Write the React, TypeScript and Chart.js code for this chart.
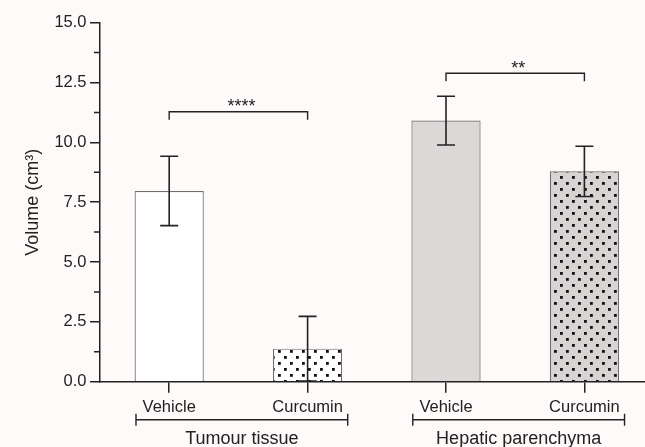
import React, { useEffect, useRef } from 'react';
import { Chart, registerables } from 'chart.js';

Chart.register(...registerables);

// Bars: treatment within each tissue group
const treatments = ['Vehicle', 'Curcumin', 'Vehicle', 'Curcumin'];
const meanVolume = [7.97, 1.38, 10.91, 8.79];
const errVolume = [1.45, 1.35, 1.02, 1.05];

// Tissue groups drawn as brackets under the category labels
const groupLabels = ['Tumour tissue', 'Hepatic parenchyma'];
const groupMembers = [[0, 1], [2, 3]];

// Significance brackets: which bars, height (cm³) and stars
const sigPairs = [[0, 1], [2, 3]];
const sigLevels = [11.28, 12.89];
const sigLabels = ['****', '**'];

// Y axis
const yMajorTicks = [0, 2.5, 5, 7.5, 10, 12.5, 15];
const yMinorTicks = [1.25, 3.75, 6.25, 8.75, 11.25, 13.75];

const INK = '#222222';
const BG = '#fdfaf9';
const FONT = "'Liberation Sans', Arial, sans-serif";

function dotPattern(bg: string): CanvasPattern | string {
  const c = document.createElement('canvas');
  c.width = 12;
  c.height = 12;
  const g = c.getContext('2d');
  if (!g) return bg;
  g.fillStyle = bg;
  g.fillRect(0, 0, 12, 12);
  g.fillStyle = '#111111';
  g.fillRect(2, 2, 2.8, 2.8);
  g.fillRect(8, 8, 2.8, 2.8);
  const p = g.createPattern(c, 'repeat');
  return p || bg;
}

const decorations = {
  id: 'decorations',
  beforeDraw(chart: any) {
    const { ctx, width, height } = chart;
    ctx.save();
    ctx.fillStyle = BG;
    ctx.fillRect(0, 0, width, height);
    ctx.restore();
  },
  afterDraw(chart: any) {
    const { ctx, chartArea } = chart;
    const xs = chart.scales.x;
    const ys = chart.scales.y;
    const meta = chart.getDatasetMeta(0);
    ctx.save();
    ctx.strokeStyle = INK;
    ctx.fillStyle = INK;

    // minor ticks on the y axis
    ctx.lineWidth = 1.5;
    ctx.beginPath();
    yMinorTicks.forEach((v) => {
      const y = ys.getPixelForValue(v);
      ctx.moveTo(chartArea.left - 6, y);
      ctx.lineTo(chartArea.left, y);
    });
    ctx.stroke();

    // error bars (mean ± error)
    ctx.lineWidth = 1.6;
    meta.data.forEach((bar: any, i: number) => {
      const x = bar.x;
      const yHi = ys.getPixelForValue(meanVolume[i] + errVolume[i]);
      const yLo = ys.getPixelForValue(Math.max(0, meanVolume[i] - errVolume[i]));
      ctx.beginPath();
      ctx.moveTo(x, yHi);
      ctx.lineTo(x, yLo);
      ctx.moveTo(x - 9, yHi);
      ctx.lineTo(x + 9, yHi);
      ctx.moveTo(x - 9, yLo);
      ctx.lineTo(x + 9, yLo);
      ctx.stroke();
    });

    // significance brackets
    ctx.lineWidth = 1.4;
    ctx.font = `18px ${FONT}`;
    ctx.textAlign = 'center';
    ctx.textBaseline = 'alphabetic';
    sigPairs.forEach((pair, k) => {
      const x0 = xs.getPixelForValue(pair[0]);
      const x1 = xs.getPixelForValue(pair[1]);
      const y = ys.getPixelForValue(sigLevels[k]);
      ctx.beginPath();
      ctx.moveTo(x0, y + 8);
      ctx.lineTo(x0, y);
      ctx.lineTo(x1, y);
      ctx.lineTo(x1, y + 8);
      ctx.stroke();
      ctx.fillText(sigLabels[k], (x0 + x1) / 2 + 3, y + 0.5);
    });

    // tissue group brackets below the axis
    const base = chartArea.bottom;
    ctx.lineWidth = 1.4;
    ctx.font = `18px ${FONT}`;
    ctx.textBaseline = 'middle';
    groupMembers.forEach((m, k) => {
      const a = xs.getPixelForValue(m[0]);
      const b = xs.getPixelForValue(m[m.length - 1]);
      const step = (b - a) / (m.length - 1);
      const left = a - 0.24 * step;
      const right = b + 0.29 * step;
      const y = base + 38;
      ctx.beginPath();
      ctx.moveTo(left, y - 6);
      ctx.lineTo(left, y + 6);
      ctx.moveTo(left, y);
      ctx.lineTo(right, y);
      ctx.moveTo(right, y - 6);
      ctx.lineTo(right, y + 6);
      ctx.stroke();
      ctx.fillText(groupLabels[k], (left + right) / 2, base + 57);
    });
    ctx.restore();
  },
};

export default function App() {
  const ref = useRef<HTMLCanvasElement | null>(null);

  useEffect(() => {
    const canvas = ref.current;
    if (!canvas) return;
    const fills = [
      '#ffffff',
      dotPattern('#ffffff'),
      '#dcd8d8',
      dotPattern('#d8d4d3'),
    ];
    const chart = new Chart(canvas, {
      type: 'bar',
      data: {
        labels: treatments,
        datasets: [
          {
            data: meanVolume,
            backgroundColor: fills as any,
            borderColor: '#6e6e6e',
            borderWidth: 1.2,
            barPercentage: 1,
            categoryPercentage: 0.5,
          },
        ],
      },
      options: {
        responsive: false,
        animation: false,
        devicePixelRatio: 1,
        layout: { padding: { left: 0, top: 22.7, right: 6.4, bottom: 0 } },
        plugins: {
          legend: { display: false },
          tooltip: { enabled: false },
        },
        scales: {
          x: {
            type: 'category',
            offset: true,
            grid: {
              offset: false,
              drawOnChartArea: false,
              drawTicks: true,
              tickLength: 11,
              color: INK,
              lineWidth: 1.5,
            },
            border: { display: true, color: INK, width: 1.5 },
            ticks: {
              font: { family: FONT, size: 16.5 },
              color: INK,
              padding: 5,
              maxRotation: 0,
              autoSkip: false,
            },
            afterFit: (s: any) => {
              s.height = 65.3;
            },
          },
          y: {
            min: 0,
            max: 15,
            afterBuildTicks: (s: any) => {
              s.ticks = yMajorTicks.map((v) => ({ value: v }));
            },
            grid: {
              drawOnChartArea: false,
              drawTicks: true,
              tickLength: 10,
              color: INK,
              lineWidth: 1.5,
            },
            border: { display: true, color: INK, width: 1.5 },
            ticks: {
              font: { family: FONT, size: 16.5 },
              color: INK,
              padding: 3.5,
              callback: (v: any) => Number(v).toFixed(1),
            },
            title: {
              display: true,
              text: 'Volume (cm³)',
              color: INK,
              font: { family: FONT, size: 18 },
              padding: { top: 22.2, bottom: 0 },
            },
            afterFit: (s: any) => {
              s.width = 100;
            },
          },
        },
      },
      plugins: [decorations],
    });
    return () => chart.destroy();
  }, []);

  return (
    <div
      style={{
        position: 'fixed',
        left: 0,
        top: 0,
        width: 645,
        height: 447,
        overflow: 'hidden',
        background: BG,
      }}
    >
      <canvas ref={ref} width={660} height={447} style={{ display: 'block' }} />
    </div>
  );
}
